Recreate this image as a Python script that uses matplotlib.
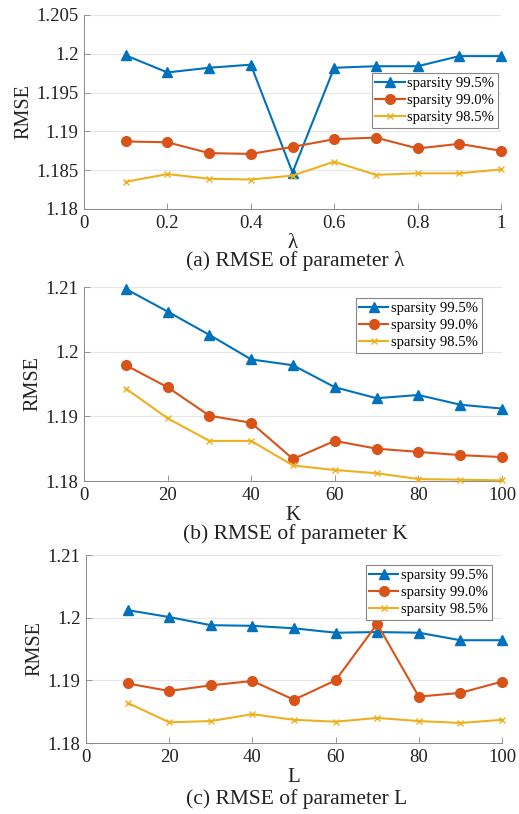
import matplotlib
matplotlib.use("Agg")
import matplotlib.pyplot as plt

plt.rcParams['font.family'] = ['Liberation Serif', 'DejaVu Serif']
plt.rcParams['mathtext.fontset'] = 'stix'

# ---------------- data ----------------
labels = ['sparsity 99.5%', 'sparsity 99.0%', 'sparsity 98.5%']

lam = [0.1, 0.2, 0.3, 0.4, 0.5, 0.6, 0.7, 0.8, 0.9, 1.0]
lam_995 = [1.1998, 1.1976, 1.1982, 1.1986, 1.1847, 1.1982, 1.1984, 1.1984, 1.1997, 1.1997]
lam_990 = [1.1887, 1.1886, 1.1872, 1.1871, 1.1880, 1.1890, 1.1892, 1.1878, 1.1884, 1.1875]
lam_985 = [1.1835, 1.1845, 1.1839, 1.1838, 1.1843, 1.1861, 1.1844, 1.1846, 1.1846, 1.1851]

K = [10, 20, 30, 40, 50, 60, 70, 80, 90, 100]
K_995 = [1.2097, 1.2062, 1.2026, 1.1988, 1.1979, 1.1945, 1.1928, 1.1933, 1.1918, 1.1912]
K_990 = [1.1979, 1.1945, 1.1901, 1.1890, 1.1834, 1.1862, 1.1850, 1.1845, 1.1840, 1.1837]
K_985 = [1.1943, 1.1897, 1.1862, 1.1862, 1.1824, 1.1817, 1.1812, 1.1803, 1.1802, 1.1801]

L = [10, 20, 30, 40, 50, 60, 70, 80, 90, 100]
L_995 = [1.2012, 1.2001, 1.1988, 1.1987, 1.1983, 1.1976, 1.1977, 1.1976, 1.1964, 1.1964]
L_990 = [1.1895, 1.1883, 1.1892, 1.1899, 1.1869, 1.1900, 1.1990, 1.1874, 1.1880, 1.1898]
L_985 = [1.1864, 1.1833, 1.1835, 1.1846, 1.1837, 1.1834, 1.1840, 1.1835, 1.1832, 1.1837]

yt_a = [1.18, 1.185, 1.19, 1.195, 1.2, 1.205]
ytl_a = ['1.18', '1.185', '1.19', '1.195', '1.2', '1.205']
xt_a = [0, 0.2, 0.4, 0.6, 0.8, 1]
xtl_a = ['0', '0.2', '0.4', '0.6', '0.8', '1']
yt_bc = [1.18, 1.19, 1.2, 1.21]
ytl_bc = ['1.18', '1.19', '1.2', '1.21']
xt_bc = [0, 20, 40, 60, 80, 100]
xtl_bc = ['0', '20', '40', '60', '80', '100']

captions = ['(a) RMSE of parameter λ', '(b) RMSE of parameter K', '(c) RMSE of parameter L']
xlabels = ['λ', 'K', 'L']

# ---------------- style ----------------
colors = ['#0072BD', '#D95319', '#EDB120']
markers = ['^', 'o', 'x']
msizes = [7, 7, 5]

W, H = 519, 814
fig = plt.figure(figsize=(W / 100, H / 100), dpi=100)

def px_axes(l, t, r, b):
    return fig.add_axes([l / W, 1 - b / H, (r - l) / W, (b - t) / H])

panels = [
    dict(box=(84, 15, 501, 209), x=lam, ys=[lam_995, lam_990, lam_985], xlim=(0, 1), ylim=(1.18, 1.205),
         xt=xt_a, xtl=xtl_a, yt=yt_a, ytl=ytl_a, leg=(0.993, 0.701), cap_y=261),
    dict(box=(84, 287, 502, 481), x=K, ys=[K_995, K_990, K_985], xlim=(0, 100), ylim=(1.18, 1.21),
         xt=xt_bc, xtl=xtl_bc, yt=yt_bc, ytl=ytl_bc, leg=(0.952, 0.943), cap_y=534),
    dict(box=(86, 555, 502, 743), x=L, ys=[L_995, L_990, L_985], xlim=(0, 100), ylim=(1.18, 1.21),
         xt=xt_bc, xtl=xtl_bc, yt=yt_bc, ytl=ytl_bc, leg=(0.976, 0.947), cap_y=799),
]

for i, p in enumerate(panels):
    ax = px_axes(*p['box'])
    for j in range(3):
        ax.plot(p['x'], p['ys'][j], color=colors[j], marker=markers[j], markersize=msizes[j],
                linewidth=1.5, label=labels[j], clip_on=False, zorder=3)
    ax.set_xlim(*p['xlim'])
    ax.set_ylim(*p['ylim'])
    ax.set_xticks(p['xt'])
    ax.set_xticklabels(p['xtl'])
    ax.set_yticks(p['yt'])
    ax.set_yticklabels(p['ytl'])
    ax.tick_params(direction='in', length=4, width=0.6, colors='#888888', labelcolor='#222222',
                   labelsize=13.5, pad=4)
    ax.yaxis.grid(True, color='#e6e6e6', linewidth=0.8)
    ax.set_axisbelow(True)
    for s in ['top', 'right']:
        ax.spines[s].set_visible(False)
    for s in ['left', 'bottom']:
        ax.spines[s].set_color('#888888')
        ax.spines[s].set_linewidth(0.7)
    ax.set_ylabel('RMSE', fontsize=14.5, color='#222222', labelpad=2)
    ax.set_xlabel(xlabels[i], fontsize=15, color='#222222', labelpad=1.5)
    leg = ax.legend(loc='upper right', bbox_to_anchor=p['leg'], borderaxespad=0, fontsize=10.5,
                    frameon=True, fancybox=False, edgecolor='#888888', handlelength=2.0,
                    labelspacing=0.28, borderpad=0.25, handletextpad=0.2, framealpha=1)
    leg.get_frame().set_linewidth(0.8)
    fig.text((p['box'][0] + p['box'][2]) / 2 / W + 0.005, 1 - p['cap_y'] / H, captions[i],
             ha='center', va='center', fontsize=15.5, color='#222222')

fig.savefig('out.png', dpi=100)
